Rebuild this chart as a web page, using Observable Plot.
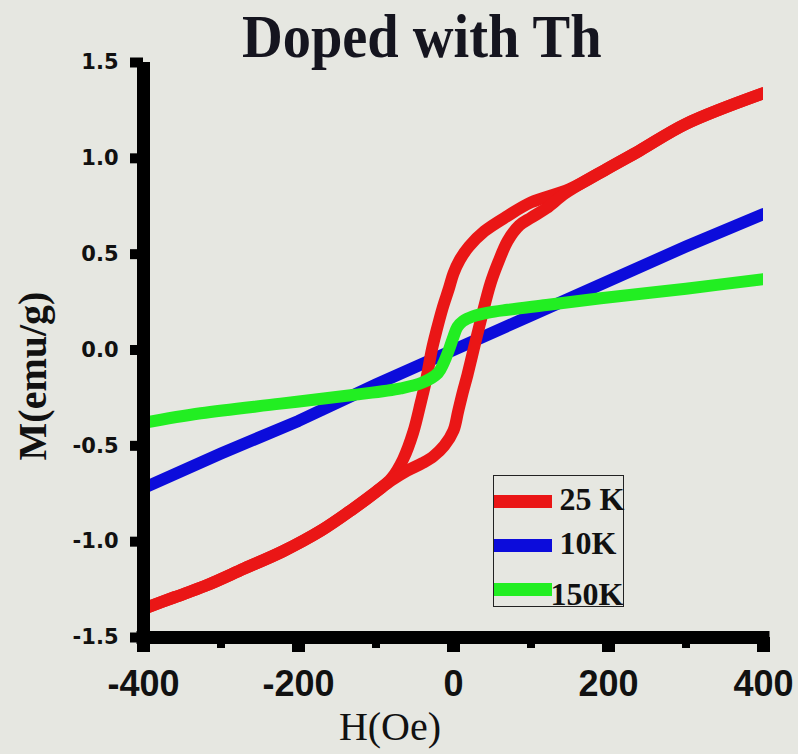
<!DOCTYPE html>
<html><head><meta charset="utf-8">
<script src="https://cdn.jsdelivr.net/npm/d3@7"></script>
<script src="https://cdn.jsdelivr.net/npm/@observablehq/plot@0.6"></script>
<style>
body{margin:0;background:#e6e7e1;}
#wrap{position:relative;width:798px;height:754px;background:#e6e7e1;overflow:hidden;}
#wrap svg{position:absolute;left:0;top:0;}
.title{position:absolute;left:242px;top:5px;font:bold 62px "Liberation Serif",serif;line-height:1;white-space:nowrap;transform:scaleX(0.91);transform-origin:0 0;color:#15151f;}
.ylab{position:absolute;left:33px;top:376px;font:bold 40px "Liberation Serif",serif;line-height:1;white-space:nowrap;transform:translate(-50%,-50%) rotate(-90deg);color:#111;}
.xlab{position:absolute;left:390px;top:707px;font:normal 40px "Liberation Serif",serif;line-height:1;white-space:nowrap;transform:translateX(-50%);color:#111;}
#legend{position:absolute;left:493px;top:475px;width:131px;height:132px;border:1.5px solid #222;box-sizing:border-box;}
#legend .sw{position:absolute;left:0;width:58px;height:13px;}
#legend .lt{position:absolute;font:bold 32px "Liberation Serif",serif;line-height:1;white-space:nowrap;color:#111;}
</style>
</head><body>
<div id="wrap"></div>
<script>
// 25 K hysteresis loop: descending-field branch
const H25_down = [400, 300, 240, 200, 150, 100, 70, 40, 20, 8, 0, -6, -14, -22, -28, -35, -42, -52, -65, -80, -100, -130, -170, -220, -270, -320, -360, -400];
const M25_down = [1.34, 1.18, 1.04, 0.95, 0.84, 0.77, 0.70, 0.62, 0.54, 0.47, 0.40, 0.32, 0.22, 0.10, 0.0, -0.15, -0.27, -0.43, -0.57, -0.67, -0.74, -0.83, -0.94, -1.05, -1.14, -1.23, -1.29, -1.35];
// 25 K hysteresis loop: ascending-field branch
const H25_up = [-400, -360, -320, -270, -220, -170, -130, -100, -80, -60, -40, -26, -12, 0, 6, 12, 18, 24, 30, 38, 48, 58, 70, 85, 100, 120, 145, 200, 240, 300, 400];
const M25_up = [-1.35, -1.29, -1.23, -1.14, -1.05, -0.94, -0.83, -0.74, -0.68, -0.63, -0.59, -0.555, -0.50, -0.42, -0.32, -0.22, -0.13, -0.03, 0.07, 0.20, 0.35, 0.46, 0.57, 0.65, 0.69, 0.74, 0.82, 0.95, 1.04, 1.18, 1.34];
// 10 K
const H10 = [-400, -300, -200, -100, 0, 100, 200, 300, 400];
const M10 = [-0.72, -0.54, -0.37, -0.18, 0, 0.18, 0.36, 0.54, 0.71];
// 150 K
const H150 = [-400, -326, -223, -130, -68, -40, -20, -13, -6, 0, 5, 12, 25, 45, 70, 120, 190, 300, 400];
const M150 = [-0.38, -0.33, -0.28, -0.235, -0.20, -0.17, -0.12, -0.07, 0.0, 0.07, 0.12, 0.15, 0.175, 0.195, 0.21, 0.235, 0.27, 0.32, 0.37];

const seriesNames = ["25 K", "10K", "150K"];
const seriesColors = ["#ea1616", "#0c0cdb", "#22ee22"];
const yTicks = [-1.5, -1.0, -0.5, 0.0, 0.5, 1.0, 1.5];
const xTicks = [-400, -200, 0, 200, 400];
const xMinorTicks = [-300, -100, 100, 300];
const titleText = "Doped with Th";
const xLabel = "H(Oe)";
const yLabel = "M(emu/g)";

const zip = (hs, ms, branch) => hs.map((h, i) => ({H: h, M: ms[i], branch}));
const red = [...zip(H25_down, M25_down, "down"), ...zip(H25_up, M25_up, "up")];
const blue = zip(H10, M10, "a");
const green = zip(H150, M150, "a");

const lineOpts = {x: "H", y: "M", strokeWidth: 12, clip: true, strokeLinejoin: "round"};

const chart = Plot.plot({
  width: 798, height: 754,
  marginLeft: 143, marginRight: 35, marginTop: 62, marginBottom: 117,
  x: {domain: [-400, 400]},
  y: {domain: [-1.5, 1.5]},
  style: {background: "transparent", color: "#111", overflow: "visible"},
  marks: [
    Plot.line(blue, {...lineOpts, stroke: seriesColors[1]}),
    Plot.line(red, {...lineOpts, z: "branch", stroke: seriesColors[0], curve: "catmull-rom"}),
    Plot.line(green, {...lineOpts, stroke: seriesColors[2], curve: "catmull-rom"}),
    Plot.ruleX([-400], {y1: -1.5, y2: 1.5, stroke: "#000", strokeWidth: 13}),
    Plot.ruleY([-1.5], {x1: -400, x2: 400, stroke: "#000", strokeWidth: 13, strokeLinecap: "square"}),
    Plot.axisY({ticks: yTicks, tickSize: 13, tickPadding: 12, strokeWidth: 10, stroke: "#000",
      tickFormat: d => d.toFixed(1), fontSize: 21, fontWeight: "bold", fontFamily: "DejaVu Sans", label: null}),
    Plot.axisX({ticks: xMinorTicks, tickSize: 11, strokeWidth: 8, stroke: "#000", tickFormat: () => "", label: null}),
    Plot.axisX({ticks: xTicks, tickSize: 15, tickPadding: 18, strokeWidth: 13, stroke: "#000",
      tickFormat: d => String(d), fontSize: 36, fontWeight: "bold", fontFamily: "Liberation Sans", label: null})
  ]
});

const wrap = document.getElementById("wrap");
wrap.appendChild(chart);

const t = document.createElement("div"); t.className = "title"; t.textContent = titleText; wrap.appendChild(t);
const yl = document.createElement("div"); yl.className = "ylab"; yl.textContent = yLabel; wrap.appendChild(yl);
const xl = document.createElement("div"); xl.className = "xlab"; xl.textContent = xLabel; wrap.appendChild(xl);

const lg = document.createElement("div"); lg.id = "legend"; wrap.appendChild(lg);
const swTops = [19, 63, 107];
const txtTops = [6.7, 50.7, 101.7];
const txtLefts = [65.5, 65.5, 56.5];
seriesNames.forEach((n, i) => {
  const s = document.createElement("div"); s.className = "sw";
  s.style.top = swTops[i] + "px"; s.style.background = seriesColors[i]; lg.appendChild(s);
  const tx = document.createElement("div"); tx.className = "lt"; tx.textContent = n;
  tx.style.top = txtTops[i] + "px"; tx.style.left = txtLefts[i] + "px"; lg.appendChild(tx);
});
</script>
</body></html>
